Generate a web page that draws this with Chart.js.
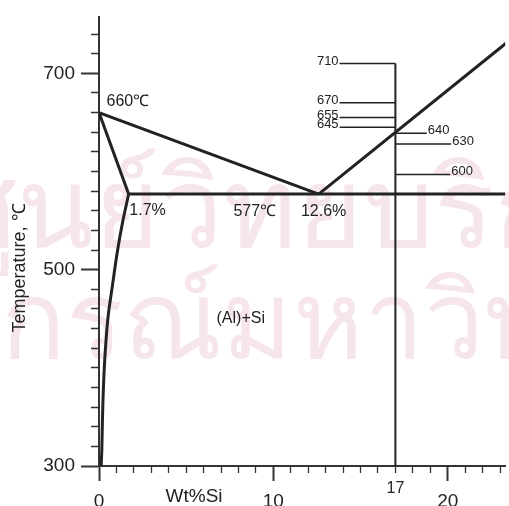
<!DOCTYPE html>
<html>
<head>
<meta charset="utf-8">
<script src="https://cdn.jsdelivr.net/npm/chart.js@4/dist/chart.umd.min.js"></script>
<style>
  html, body { margin: 0; padding: 0; background: #fff; }
  #wrap { width: 509px; height: 506px; }
</style>
</head>
<body>
<div id="wrap"><canvas id="phaseChart"></canvas></div>
<script>
// Al-Si phase diagram (Al-rich side)

const liquidusAl = [{x: 0, y: 660}, {x: 12.6, y: 577}];
const liquidusSi = [{x: 12.6, y: 577}, {x: 24, y: 740}];
const solidus = [{x: 0, y: 660}, {x: 1.7, y: 577}];
const eutectic = [{x: 1.7, y: 577}, {x: 24, y: 577}];
const solvus = [
  {x: 1.7, y: 577}, {x: 1.35, y: 548}, {x: 1.05, y: 518}, {x: 0.78, y: 485},
  {x: 0.52, y: 452}, {x: 0.36, y: 417}, {x: 0.26, y: 383}, {x: 0.2, y: 349},
  {x: 0.16, y: 315}, {x: 0.12, y: 300}
];
const alloyLine = [{x: 17, y: 300}, {x: 17, y: 710}];

// temperature marks on the 17% alloy
const tempsLeft = [710, 670, 655, 645];
const leftStart = 13.8;
const tempsRight = [639, 628, 597];
const tempLabelsRight = ["640", "630", "600"];
const rightEnds = [18.8, 20.2, 20.15];

// axis ticks
const xTicks = [0, 1, 2, 3, 4, 5, 6, 7, 8, 9, 10, 11, 12, 13, 14, 15, 16, 17, 18, 19, 20, 21, 22, 23];
const xTickLabels = [0, 10, 20];
const yTicks = [300, 320, 340, 360, 380, 400, 420, 440, 460, 480, 500, 520, 540, 560, 580, 600,
  620, 640, 660, 680, 700, 720, 740];
const yTickLabels = [300, 500, 700];

// text notes in data units
const notes = [
  {text: "660℃", x: 0.43, y: 671},
  {text: "1.7%", x: 1.74, y: 560},
  {text: "577℃", x: 7.71, y: 559.5},
  {text: "12.6%", x: 11.58, y: 559.5},
  {text: "(Al)+Si", x: 6.74, y: 450.5}
];

const FONT = '"Liberation Sans", Arial, sans-serif';
const INK = "#222";

function lineSet(data, width) {
  return {data: data, showLine: true, borderColor: INK, borderWidth: width, pointRadius: 0, fill: false};
}

const datasets = [
  lineSet(liquidusAl, 3),
  lineSet(liquidusSi, 3),
  lineSet(solidus, 3),
  lineSet(eutectic, 3),
  Object.assign(lineSet(solvus, 3), {tension: 0.3}),
  lineSet(alloyLine, 2)
];
tempsLeft.forEach(t => datasets.push(lineSet([{x: leftStart, y: t}, {x: 17, y: t}], 1.5)));
tempsRight.forEach((t, i) => datasets.push(lineSet([{x: 17, y: t}, {x: rightEnds[i], y: t}], 1.5)));

// faint library stamp behind the scan
const watermark = {
  id: "watermark",
  beforeDraw(chart) {
    const ctx = chart.ctx;
    ctx.save();
    ctx.fillStyle = "#f6e6eb";
    ctx.font = "112px sans-serif";
    ctx.fillText("ศูนย์วิทยบริการ", -54, 247);
    ctx.font = "107px sans-serif";
    ctx.fillText("จุฬาลงกรณ์มหาวิทยาลัย", -313, 358);
    ctx.restore();
  }
};

const extras = {
  id: "extras",
  afterDraw(chart) {
    const {ctx, scales: {x, y}} = chart;
    ctx.save();
    ctx.fillStyle = INK;
    ctx.font = "16px " + FONT;
    ctx.textBaseline = "middle";
    ctx.textAlign = "left";
    notes.forEach(n => ctx.fillText(n.text, x.getPixelForValue(n.x), y.getPixelForValue(n.y)));

    // alloy label under the axis
    ctx.textAlign = "center";
    ctx.fillText("17", x.getPixelForValue(17), y.getPixelForValue(277));

    // temperature labels
    ctx.font = "13px " + FONT;
    ctx.textBaseline = "alphabetic";
    ctx.textAlign = "right";
    tempsLeft.forEach(t => ctx.fillText(String(t), x.getPixelForValue(leftStart) - 1, y.getPixelForValue(t) + 1));
    ctx.textAlign = "left";
    tempsRight.forEach((t, i) => ctx.fillText(tempLabelsRight[i], x.getPixelForValue(rightEnds[i]) + 1, y.getPixelForValue(t) + 1));

    // axis titles
    ctx.font = "19px " + FONT;
    ctx.textAlign = "center";
    ctx.textBaseline = "middle";
    ctx.fillText("Wt%Si", x.getPixelForValue(5.45), chart.chartArea.bottom + 31);
    ctx.translate(20, 268);
    ctx.rotate(-Math.PI / 2);
    ctx.font = "18px " + FONT;
    ctx.fillText("Temperature, ℃", 0, 0);
    ctx.restore();
  }
};

new Chart("phaseChart", {
  type: "scatter",
  data: {datasets: datasets},
  options: {
    responsive: true,
    maintainAspectRatio: false,
    animation: false,
    layout: {padding: {top: 15, right: 0, left: 0, bottom: 0}},
    plugins: {legend: {display: false}, tooltip: {enabled: false}},
    scales: {
      x: {
        type: "linear",
        position: "bottom",
        min: 0,
        max: 23.3,
        afterFit(s) { s.height = 40; },
        afterBuildTicks(s) { s.ticks = xTicks.map(v => ({value: v})); },
        border: {color: "#333", width: 2},
        grid: {
          drawOnChartArea: false,
          tickLength: 15,
          tickColor: "#333",
          tickWidth: c => xTickLabels.includes(c.tick.value) ? 2 : 1.3,
          tickBorderDash: c => xTickLabels.includes(c.tick.value) ? [] : [6, 100]
        },
        ticks: {
          autoSkip: false,
          maxRotation: 0,
          padding: 9,
          color: INK,
          font: {family: FONT, size: 19},
          callback: v => xTickLabels.includes(v) ? String(v) : ""
        }
      },
      y: {
        type: "linear",
        position: "left",
        min: 300,
        max: 757,
        afterFit(s) { s.width = 99; },
        afterBuildTicks(s) { s.ticks = yTicks.map(v => ({value: v})); },
        border: {color: "#333", width: 2},
        grid: {
          drawOnChartArea: false,
          tickLength: 18,
          tickColor: "#333",
          tickWidth: c => yTickLabels.includes(c.tick.value) ? 2 : 1.3,
          tickBorderDash: c => yTickLabels.includes(c.tick.value) ? [] : [0, 10, 8, 100]
        },
        ticks: {
          autoSkip: false,
          padding: 6,
          color: INK,
          font: {family: FONT, size: 19},
          callback: v => yTickLabels.includes(v) ? String(v) : ""
        }
      }
    }
  },
  plugins: [watermark, extras]
});
</script>
</body>
</html>
